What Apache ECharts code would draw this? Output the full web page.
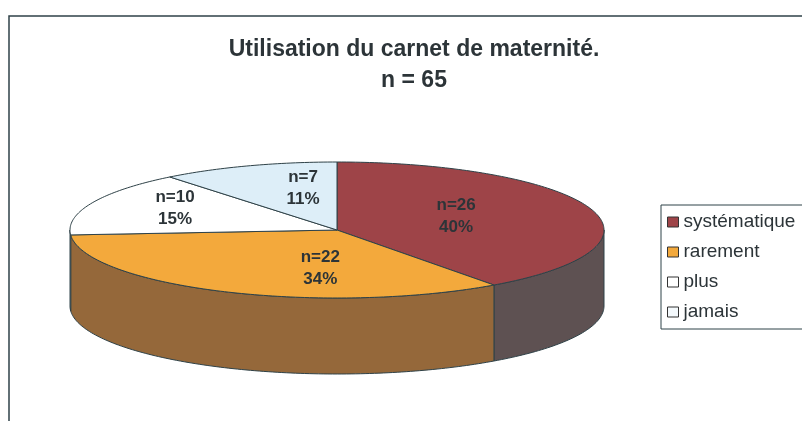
<!DOCTYPE html>
<html lang="fr">
<head>
    <meta charset="UTF-8">
    <title>Utilisation du carnet de maternité</title>
    <style>
        html, body { margin: 0; padding: 0; background: #fff; }
        #main { width: 802px; height: 421px; }
    </style>
</head>
<body>
<div id="main"></div>

<script src="https://cdn.jsdelivr.net/npm/echarts@6/dist/echarts.min.js"></script>
<script>

    // donnees
    let categories = ['systématique', 'rarement', 'plus', 'jamais'];
    let counts = [26, 22, 10, 7];
    let titleLines = ['Utilisation du carnet de maternité.', 'n = 65'];

    // couleurs : dessus / cote
    let topColors = ['#9E4448', '#F3A93C', '#FFFFFF', '#DDEEF8'];
    let sideColors = ['#5E5152', '#95683A', '#E6E6E6', '#C4D4DE'];
    let legendColors = ['#9E4448', '#F3A93C', '#FFFFFF', '#F4F9FC'];

    const FONT = "'Liberation Sans', Arial, sans-serif";
    const EDGE = '#2F4248';
    const CX = 337, CY = 230, RX = 267, RY = 68, DEPTH = 76;
    // petit decalage des etiquettes (comme Excel les place)
    const labelNudge = [[-9, -3], [45, 5], [-5, -4], [24, 0]];

    let total = counts.reduce((a, b) => a + b, 0);
    let startAngle = [], endAngle = [];
    let acc = 0;
    counts.forEach(v => {
        startAngle.push(acc / total * 360);
        acc += v;
        endAngle.push(acc / total * 360);
    });

    // angle en degres, sens horaire depuis le haut
    function pt(deg, dz) {
        let r = deg * Math.PI / 180;
        return [CX + RX * Math.sin(r), CY - RY * Math.cos(r) + dz];
    }

    function arc(a0, a1, dz) {
        let pts = [];
        let n = Math.max(2, Math.ceil(Math.abs(a1 - a0)));
        for (let k = 0; k <= n; k++) pts.push(pt(a0 + (a1 - a0) * k / n, dz));
        return pts;
    }

    function renderSide(params, api) {
        let i = params.dataIndex;
        let s = Math.max(startAngle[i], 90), e = Math.min(endAngle[i], 270);
        if (s >= e) return {type: 'group', children: []};
        let pts = arc(s, e, 0).concat(arc(e, s, DEPTH));
        return {
            type: 'polygon',
            shape: {points: pts},
            style: {fill: sideColors[i], stroke: EDGE, lineWidth: 1}
        };
    }

    function renderTop(params, api) {
        let i = params.dataIndex;
        let a0 = startAngle[i], a1 = endAngle[i];
        let pts = [[CX, CY]].concat(arc(a0, a1, 0));
        // centre de gravite du secteur pour l'etiquette
        let half = (a1 - a0) / 2 * Math.PI / 180;
        let d = 2 * Math.sin(half) / (3 * half);
        let mid = (a0 + a1) / 2 * Math.PI / 180;
        let lx = CX + RX * d * Math.sin(mid) + labelNudge[i][0];
        let ly = CY - RY * d * Math.cos(mid) + labelNudge[i][1];
        let pct = Math.round(api.value(0) / total * 100);
        return {
            type: 'group',
            children: [
                {
                    type: 'polygon',
                    shape: {points: pts},
                    style: {fill: topColors[i], stroke: EDGE, lineWidth: 1}
                },
                {
                    type: 'text',
                    x: lx, y: ly,
                    z2: 100,
                    style: {
                        text: 'n=' + api.value(0) + '\n' + pct + '%',
                        fill: '#2C3438',
                        font: 'bold 17px ' + FONT,
                        lineHeight: 22,
                        align: 'center',
                        verticalAlign: 'middle'
                    }
                }
            ]
        };
    }

    let seriesData = counts.map((v, i) => ({name: categories[i], value: v}));

    let option = {
        backgroundColor: '#ffffff',
        animation: false,
        legend: {
            orient: 'vertical',
            left: 661,
            top: 205,
            padding: [7, 30, 7, 6],
            borderColor: EDGE,
            borderWidth: 1,
            itemWidth: 11,
            itemHeight: 10,
            itemGap: 10,
            icon: 'rect',
            itemStyle: {borderColor: '#333', borderWidth: 1},
            textStyle: {fontFamily: FONT, fontSize: 19, color: '#2C3438', lineHeight: 20},
            data: categories
        },
        graphic: [
            {
                type: 'rect',
                silent: true,
                shape: {x: 9, y: 16, width: 900, height: 500},
                style: {fill: 'none', stroke: EDGE, lineWidth: 1.5}
            },
            {
                type: 'text', x: 414, y: 50,
                style: {text: titleLines[0], font: 'bold 23px ' + FONT, fill: '#2C3438', align: 'center', verticalAlign: 'middle'}
            },
            {
                type: 'text', x: 414, y: 81,
                style: {text: titleLines[1], font: 'bold 23px ' + FONT, fill: '#2C3438', align: 'center', verticalAlign: 'middle'}
            }
        ],
        series: [
            {
                // seulement pour la legende
                type: 'pie',
                radius: [0, 0],
                center: [-50, -50],
                silent: true,
                label: {show: false},
                labelLine: {show: false},
                data: seriesData.map((d, i) => ({name: d.name, value: d.value, itemStyle: {color: legendColors[i]}}))
            },
            {
                type: 'custom',
                coordinateSystem: 'none',
                z: 1,
                silent: true,
                renderItem: renderSide,
                data: seriesData
            },
            {
                type: 'custom',
                coordinateSystem: 'none',
                z: 2,
                silent: true,
                renderItem: renderTop,
                data: seriesData
            }
        ]
    };

    let myChart = echarts.init(document.getElementById('main'));
    myChart.setOption(option);
</script>
</body>
</html>
